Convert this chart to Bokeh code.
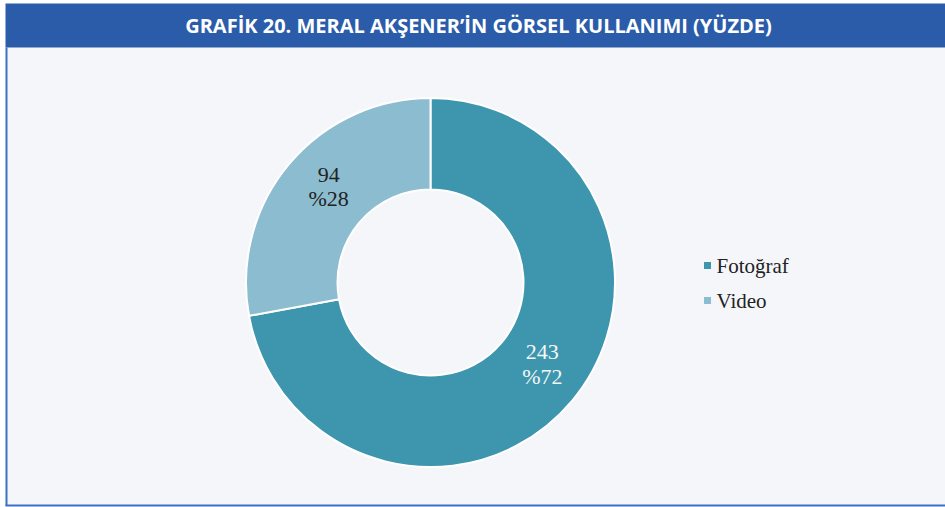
import numpy as np
from bokeh.plotting import figure
from bokeh.models import Range1d, ColumnDataSource
from bokeh.core.properties import value
from bokeh.embed import file_html
from bokeh.resources import INLINE

# ---- data ----
categories = ["Fotoğraf", "Video"]
counts = [243, 94]
percents = [72, 28]
colors = ["#3d96ad", "#8bbccf"]
label_colors = ["#f4f6f8", "#222222"]
title_text = "GRAFİK 20. MERAL AKŞENER’İN GÖRSEL KULLANIMI (YÜZDE)"

# ---- layout (pixel space, y measured downward then flipped) ----
W, H = 945, 507
def Y(fy):
    return H - fy

p = figure(width=W, height=H, output_backend="svg", toolbar_location=None,
           x_range=Range1d(0, W), y_range=Range1d(0, H), min_border=0)
p.axis.visible = False
p.grid.visible = False
p.outline_line_color = None
p.background_fill_color = "#ffffff"
p.border_fill_color = "#ffffff"

# light box
p.quad(left=5, right=W, top=Y(47), bottom=Y(505), fill_color="#f5f6fa", line_color=None)
# title bar
p.quad(left=5, right=W, top=Y(3), bottom=Y(47), fill_color="#2a5caa", line_color=None)
p.text(x=[478], y=[Y(25)], text=[title_text], text_align="center",
       text_baseline="middle", text_color="#ffffff",
       text_font=value("Open Sans"), text_font_style="bold", text_font_size="20px")

# box borders (left and bottom)
p.segment(x0=[6, 5], y0=[Y(47), Y(505)], x1=[6, W], y1=[Y(505), Y(505)],
          line_color="#3b70c4", line_width=2)

# donut
cx, cy = 430, Y(282)
r_out, r_in = 184.5, 93
total = float(sum(counts))
fr = np.array(counts) / total
cum = np.concatenate([[0], np.cumsum(fr)])
ends = np.pi / 2 - 2 * np.pi * cum[:-1]
starts = np.pi / 2 - 2 * np.pi * cum[1:]
src = ColumnDataSource(dict(start=starts, end=ends, color=colors, cat=categories))
p.annular_wedge(x=cx, y=cy, inner_radius=r_in, outer_radius=r_out,
                start_angle="start", end_angle="end", fill_color="color",
                line_color="#ffffff", line_width=2, source=src)

# labels
mid = (starts + ends) / 2
r_lab = 139
lx = cx + r_lab * np.cos(mid) + 5
ly = cy + r_lab * np.sin(mid) + 7
for i in range(len(categories)):
    p.text(x=[lx[i], lx[i]], y=[ly[i] + 12, ly[i] - 12],
           text=[str(counts[i]), "%" + str(percents[i])],
           text_align="center", text_baseline="middle", text_color=label_colors[i],
           text_font=value("Liberation Serif"), text_font_size="22px")

# legend
leg_x, leg_y0, leg_dy = 707, 265, 35
ys = [Y(leg_y0 + i * leg_dy) for i in range(len(categories))]
p.scatter(x=[leg_x] * len(categories), y=ys, marker="square", size=7,
          fill_color=colors, line_color=None)
p.text(x=[leg_x + 9] * len(categories), y=ys, text=categories, text_align="left",
       text_baseline="middle", text_color="#222222",
       text_font=value("Liberation Serif"), text_font_size="21px")

open("out.html", "w").write(file_html(p, INLINE))
